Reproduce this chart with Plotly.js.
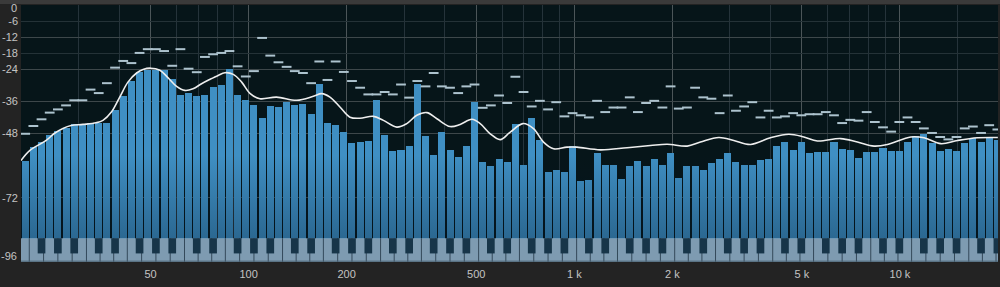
<!DOCTYPE html>
<html>
<head>
<meta charset="utf-8">
<script src="https://cdn.plot.ly/plotly-3.0.1.min.js"></script>
<style>
html,body{margin:0;padding:0;background:#232323;overflow:hidden;}
#chart{width:1000px;height:287px;}
</style>
</head>
<body>
<div id="chart"></div>
<script>
// One band per semitone, starting at MIDI note 16 (E0, 20.6 Hz)
const firstBandNote = 16;

// Current level per band, dB
const barLevels = [
  -58.1, -53.2, -51.2, -48.7, -47.2, -45.8, -44.6, -44.6, -44.1, -44.1,
  -43.9, -39.4, -34.1, -28.5, -25.1, -24.4, -24.4, -24.2, -27.5, -33.5,
  -32.8, -34.0, -33.5, -30.7, -30.0, -23.8, -33.5, -35.6, -37.3, -42.1,
  -37.8, -38.1, -36.4, -37.3, -36.9, -40.6, -29.4, -43.9, -44.7, -47.6,
  -51.6, -51.2, -50.8, -35.6, -48.7, -54.6, -54.1, -52.5, -29.4, -49.1,
  -56.2, -47.6, -54.1, -56.6, -52.8, -36.4, -58.7, -60.2, -57.4, -58.7,
  -44.6, -59.9, -42.1, -50.3, -62.4, -61.5, -62.4, -52.8, -65.8, -65.3,
  -55.3, -59.9, -59.6, -64.9, -60.3, -58.3, -60.3, -57.4, -59.6, -55.3,
  -64.5, -60.3, -60.3, -61.5, -59.1, -57.4, -55.3, -58.7, -59.6, -59.9,
  -57.8, -57.4, -52.5, -51.2, -54.1, -51.0, -55.3, -54.9, -54.9, -51.2,
  -53.7, -54.1, -57.1, -54.9, -54.9, -53.3, -54.6, -54.6, -51.2, -49.1,
  -48.3, -51.4, -54.6, -53.7, -54.6, -51.6, -49.8, -51.2, -49.2, -50.3
];

// Peak-hold level per band, dB
const peakLevels = [
  -48.1, -45.2, -42.7, -40.2, -39.0, -37.5, -35.6, -35.6, -31.6, -32.9,
  -29.2, -23.4, -20.9, -21.7, -17.9, -16.5, -16.5, -17.2, -22.7, -16.5,
  -23.8, -25.1, -19.4, -18.4, -17.9, -17.2, -22.9, -26.7, -24.7, -12.3,
  -18.9, -21.4, -23.1, -24.7, -25.4, -29.2, -21.1, -28.0, -21.1, -25.0,
  -28.4, -30.9, -33.4, -33.4, -32.5, -33.4, -29.7, -34.6, -28.4, -30.4,
  -25.4, -30.4, -30.9, -32.9, -30.4, -29.7, -38.4, -37.5, -33.8, -36.6,
  -26.8, -32.5, -37.9, -35.8, -39.0, -36.3, -41.6, -40.4, -41.2, -42.0,
  -35.8, -40.0, -38.3, -38.3, -34.5, -40.0, -36.6, -35.8, -38.3, -30.4,
  -38.7, -38.3, -30.9, -34.5, -35.0, -40.4, -33.8, -39.5, -37.9, -36.3,
  -42.0, -39.5, -42.0, -41.6, -40.4, -41.2, -40.8, -40.8, -40.0, -41.2,
  -44.1, -42.9, -43.2, -40.0, -43.7, -45.7, -47.3, -43.7, -42.0, -43.7,
  -46.1, -47.8, -49.3, -50.2, -49.3, -46.1, -45.4, -47.8, -44.9, -46.5
];

// Smoothed (average) spectrum curve
const curveHz = [
  20, 21.3, 23.9, 25.3, 26.9, 28.5, 31.0, 34.0, 35.7, 37.9,
  40.2, 42.6, 45.3, 47.4, 50.0, 53.4, 56.6, 60.1, 63.7, 67.5,
  71.7, 76.0, 80.6, 84.5, 89.7, 95.2, 100.9, 108.3, 121.8, 140.5,
  158.0, 167.6, 177.7, 190.7, 204.7, 219.7, 241.5, 259.3, 285.1, 306.0,
  328.5, 352.6, 378.5, 415.6, 446.2, 484.8, 514.1, 551.8, 592.3, 635.8,
  695.4, 749.5, 804.3, 863.9, 949.6, 1019, 1202, 1452, 1713, 1928,
  2221, 2440, 2778, 3089, 3477, 4004, 4560, 5071, 5576, 6576,
  7400, 8325, 9152, 10794, 11860, 13350, 15025, 17310, 19980
];
const curveDb = [
  -58.1, -54.3, -50.6, -48.0, -46.1, -45.0, -44.6, -44.0, -43.1, -40.0,
  -34.4, -28.8, -25.4, -24.1, -23.6, -24.4, -27.2, -30.4, -31.9, -31.3,
  -29.4, -27.8, -26.3, -25.3, -25.9, -28.8, -33.0, -35.0, -34.4, -35.6,
  -34.1, -33.1, -34.4, -38.1, -41.9, -42.3, -41.6, -43.1, -45.6, -44.3,
  -41.2, -40.2, -42.5, -45.4, -44.6, -42.7, -44.3, -48.1, -50.3, -47.5,
  -44.3, -46.2, -51.2, -53.7, -53.1, -53.1, -54.1, -53.3, -52.5, -52.0,
  -52.7, -51.2, -49.5, -50.6, -52.1, -49.6, -48.3, -49.3, -50.8, -49.9,
  -51.2, -52.7, -52.1, -49.3, -49.6, -51.8, -50.6, -49.6, -49.5
];

// Axis ticks
const xTickHz   = [50, 100, 200, 500, 1000, 2000, 5000, 10000];
const xTickText = ['50', '100', '200', '500', '1 k', '2 k', '5 k', '10 k'];
const xMinorHz  = [30, 40, 60, 70, 80, 90, 300, 400, 600, 700, 800, 900,
                   3000, 4000, 6000, 7000, 8000, 9000, 15000];
const yTickVals = [0, -6, -12, -18, -24, -36, -48, -72, -96];
const yMajorGrid = [0, -12, -24, -36, -48, -72, -96];
const freqRange = [20, 20000];
const dbRange = [-96, 0];

// ---- helpers ----
const hzToNote = f => 69 + 12 * Math.log2(f / 440);
const bandNotes = barLevels.map((_, i) => firstBandNote + i);
const dbFloor = dbRange[0], dbCeil = dbRange[1];

// ---- traces ----
const bars = {
  type: 'bar',
  x: bandNotes,
  base: dbFloor,
  y: barLevels.map(v => v - dbFloor),
  width: 0.86,
  marker: {color: '#3f8fc3', line: {width: 0}},
  hoverinfo: 'skip'
};
const peaks = {
  type: 'scatter',
  mode: 'markers',
  x: bandNotes,
  y: peakLevels,
  marker: {symbol: 'line-ew', size: 7, color: '#adc3ce', line: {width: 2, color: '#adc3ce'}},
  hoverinfo: 'skip'
};
const curve = {
  type: 'scatter',
  mode: 'lines',
  x: curveHz.map(hzToNote),
  y: curveDb,
  line: {color: '#eeeeee', width: 1.6, shape: 'spline', smoothing: 1},
  hoverinfo: 'skip'
};
const gridHelper = { // invisible trace carrying the bright grid axis
  type: 'scatter', mode: 'none', x: [hzToNote(freqRange[0])], y: [dbFloor],
  yaxis: 'y2', hoverinfo: 'skip', showlegend: false
};

// ---- keyboard overlay (decoration) ----
const kbTop = -87.1, kbBlackBottom = -92.8;
const shapes = [];
shapes.push({type: 'rect', xref: 'paper', yref: 'paper', x0: -0.05, x1: 1.05, y0: 1.004, y1: 1.03,
  fillcolor: '#3a3a3a', line: {width: 0}, layer: 'above'});
shapes.push({type: 'rect', xref: 'paper', yref: 'y', x0: 0, x1: 1, y0: dbFloor, y1: kbTop,
  fillcolor: '#7e9bb1', line: {width: 0}, layer: 'above'});
const nLo = Math.floor(hzToNote(freqRange[0])) - 12, nHi = Math.ceil(hzToNote(freqRange[1])) + 12;
const whiteEdges = [-0.5, 7/6, 17/6, 4.5, 6.25, 8.0, 9.75];
for (let c = Math.floor(nLo / 12) * 12; c <= nHi; c += 12) {
  whiteEdges.forEach(e => {
    shapes.push({type: 'line', xref: 'x', yref: 'y', x0: c + e, x1: c + e, y0: dbFloor, y1: kbTop,
      line: {color: '#34495a', width: 1}, layer: 'above'});
  });
}
for (let n = nLo; n <= nHi; n++) {
  const pc = ((n % 12) + 12) % 12;
  if ([1, 3, 6, 8, 10].includes(pc)) {
    shapes.push({type: 'rect', xref: 'x', yref: 'y', x0: n - 0.47, x1: n + 0.47, y0: kbBlackBottom, y1: kbTop,
      fillcolor: '#173549', line: {width: 0}, layer: 'above'});
  }
}
shapes.push({type: 'line', xref: 'paper', yref: 'y', x0: 0, x1: 1, y0: dbFloor + 0.3, y1: dbFloor + 0.3,
  line: {color: '#4a6272', width: 1}, layer: 'above'});

const gradSvg = '<svg xmlns="http://www.w3.org/2000/svg" width="10" height="100" preserveAspectRatio="none">' +
  '<defs><linearGradient id="g" x1="0" y1="0" x2="0" y2="1">' +
  '<stop offset="0" stop-color="#001428" stop-opacity="0"/>' +
  '<stop offset="1" stop-color="#001428" stop-opacity="0.32"/>' +
  '</linearGradient></defs><rect width="10" height="100" fill="url(#g)"/></svg>';

// Edge labels sit just inside the plot frame, as in the analyser
const edgeLabel = (v, shift) => ({
  text: String(v), xref: 'paper', x: 0, xanchor: 'right', xshift: -2,
  yref: 'y', y: v, yanchor: 'middle', yshift: shift, showarrow: false,
  font: {family: 'Liberation Sans, Arial, sans-serif', size: 11, color: '#c4c4c4'}
});

const layout = {
  width: 1000, height: 287,
  margin: {l: 21, r: 2, t: 5, b: 25, pad: 0},
  paper_bgcolor: '#232323',
  plot_bgcolor: '#061519',
  showlegend: false,
  bargap: 0,
  font: {family: 'Liberation Sans, Arial, sans-serif', size: 11, color: '#c4c4c4'},
  xaxis: {
    range: freqRange.map(hzToNote),
    tickmode: 'array',
    tickvals: xTickHz.map(hzToNote),
    ticktext: xTickText,
    showgrid: true, gridcolor: '#4b5558', gridwidth: 1,
    minor: {tickmode: 'array', tickvals: xMinorHz.map(hzToNote), showgrid: true, gridcolor: '#25333a', ticks: ''},
    ticks: '', showline: false, zeroline: false, fixedrange: true,
    ticklabelstandoff: 4
  },
  yaxis: {
    range: dbRange,
    tickmode: 'array', tickvals: yTickVals,
    ticktext: yTickVals.map(v => (v === dbFloor || v === dbCeil) ? '' : String(v)),
    showgrid: true, gridcolor: '#243237', gridwidth: 1,
    ticks: '', showline: false, zeroline: false, fixedrange: true,
    ticklabelstandoff: 2
  },
  yaxis2: {
    range: dbRange, overlaying: 'y', side: 'left',
    tickmode: 'array', tickvals: yMajorGrid, showticklabels: false,
    showgrid: true, gridcolor: '#3d474a', gridwidth: 1,
    ticks: '', showline: false, zeroline: false, fixedrange: true
  },
  annotations: [edgeLabel(dbCeil, -3), edgeLabel(dbFloor, 6)],
  shapes: shapes,
  images: [{
    source: 'data:image/svg+xml;charset=utf-8,' + encodeURIComponent(gradSvg),
    xref: 'paper', yref: 'y', x: 0, y: -56, sizex: 1, sizey: -56 - kbTop,
    xanchor: 'left', yanchor: 'top', sizing: 'stretch', layer: 'above', opacity: 1
  }]
};

Plotly.newPlot('chart', [gridHelper, bars, peaks, curve], layout, {staticPlot: true, displayModeBar: false});
</script>
</body>
</html>
